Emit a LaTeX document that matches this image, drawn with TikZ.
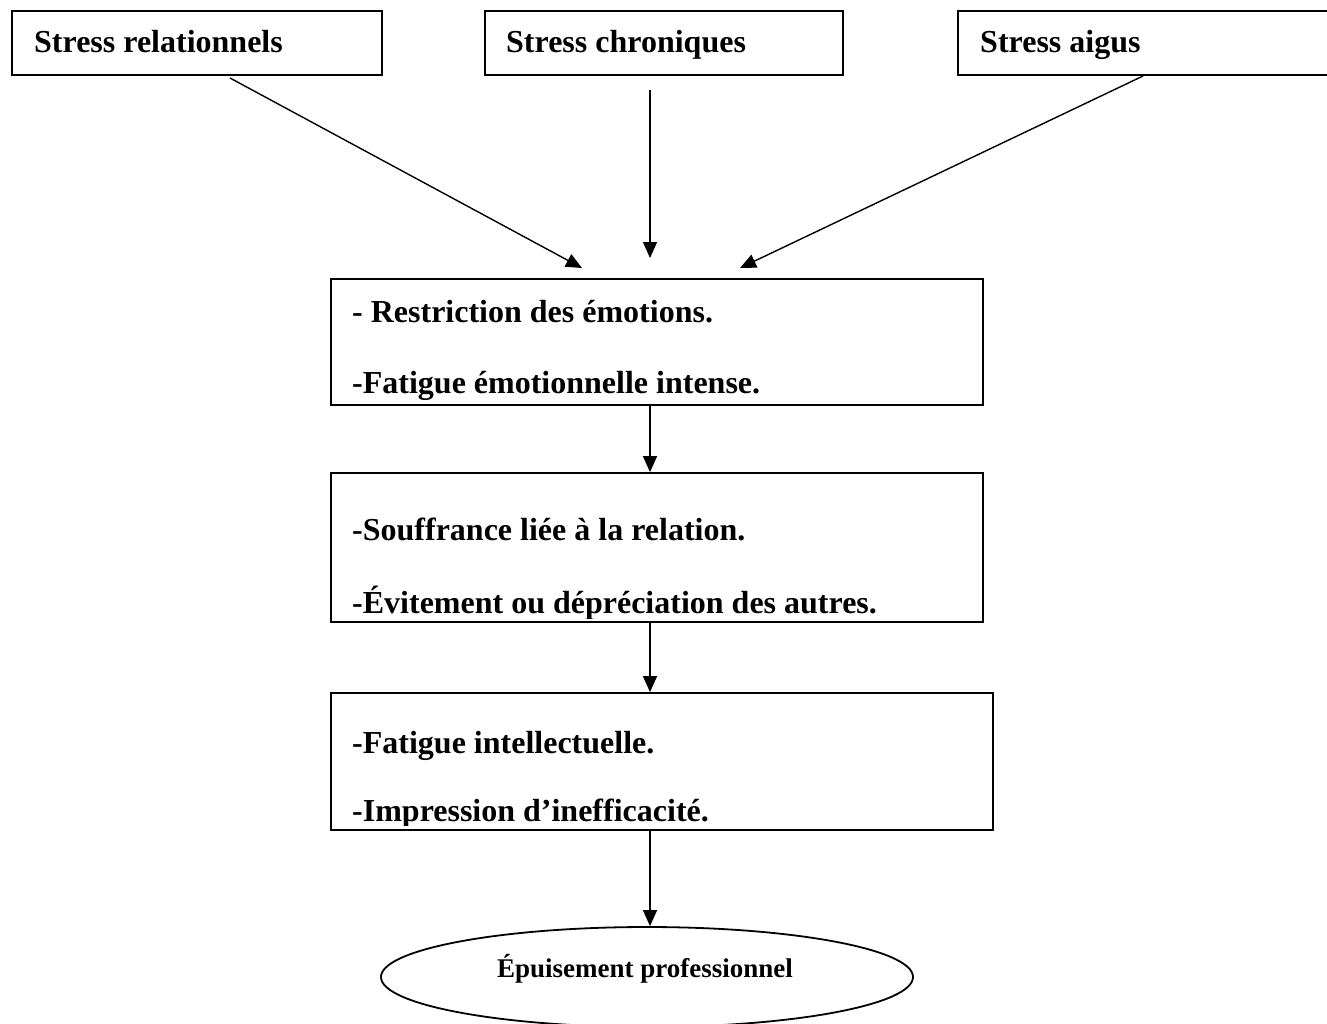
\documentclass[tikz,border=0pt]{standalone}
\usepackage{fontspec}
\setmainfont{Liberation Serif}
\usetikzlibrary{arrows.meta,shapes.geometric,calc}
\begin{document}
\begin{tikzpicture}[x=1pt,y=-1pt,
  box/.style={draw,line width=1.8pt,rectangle,inner sep=0pt},
  lbl/.style={anchor=base west,inner sep=0pt,font=\fontsize{32}{38}\selectfont\bfseries},
  arr/.style={line width=1.4pt,-{Triangle[length=16pt,width=14pt]}}]
\useasboundingbox (0,0) rectangle (1327,1023);
\clip (0,0) rectangle (1327,1023);
% top boxes
\node[box,minimum width=370pt,minimum height=64pt] (s1) at (197,43) {};
\node[box,minimum width=358pt,minimum height=64pt] (s2) at (664,43) {};
\node[box,minimum width=387pt,minimum height=64pt] (s3) at (1151.5,43) {};
\node[lbl] (s1t) at (34,52) {Stress relationnels};
\node[lbl] (s2t) at (506,52) {Stress chroniques};
\node[lbl] (s3t) at (980,52) {Stress aigus};
% middle boxes
\node[box,minimum width=652pt,minimum height=126pt] (A) at (657,342) {};
\node[box,minimum width=652pt,minimum height=149pt] (B) at (657,547.5) {};
\node[box,minimum width=662pt,minimum height=137pt] (C) at (662,761.5) {};
\begin{scope}
\clip (A.north west) rectangle (A.south east);
\node[lbl] (a1) at (352,322) {- Restriction des émotions.};
\node[lbl] (a2) at (352,393) {-Fatigue émotionnelle intense.};
\end{scope}
\begin{scope}
\clip (B.north west) rectangle ($(B.south east)+(0,-4)$);
\node[lbl] (b1) at (352,540) {-Souffrance liée à la relation.};
\node[lbl] (b2) at (352,613) {-Évitement ou dépréciation des autres.};
\end{scope}
\begin{scope}
\clip (C.north west) rectangle ($(C.south east)+(0,-5)$);
\node[lbl] (c1) at (352,753) {-Fatigue intellectuelle.};
\node[lbl] (c2) at (352,821) {-Impression d’inefficacité.};
\end{scope}
% ellipse
\node[draw,ellipse,line width=1.8pt,minimum width=532pt,minimum height=100pt,inner sep=0pt] (E) at (647,977) {};
\node[anchor=base,inner sep=0pt,font=\fontsize{27}{32}\selectfont\bfseries] (Et) at (645,977) {Épuisement professionnel};
% connectors
\coordinate (t1s) at (230,78);
\coordinate (t1e) at (582,268);
\coordinate (t2s) at (650,90);
\coordinate (t2e) at (650,258);
\coordinate (t3s) at (1143,76);
\coordinate (t3e) at (740,268);
\coordinate (ax) at (650,0);
\draw[arr] (t1s) -- (t1e);
\draw[arr] (t2s) -- (t2e);
\draw[arr] (t3s) -- (t3e);
\draw[arr] (A.south -| ax) -- (B.north -| ax);
\draw[arr] (B.south -| ax) -- (C.north -| ax);
\draw[arr] (C.south -| ax) -- (E.north -| ax);
\end{tikzpicture}
\end{document}
